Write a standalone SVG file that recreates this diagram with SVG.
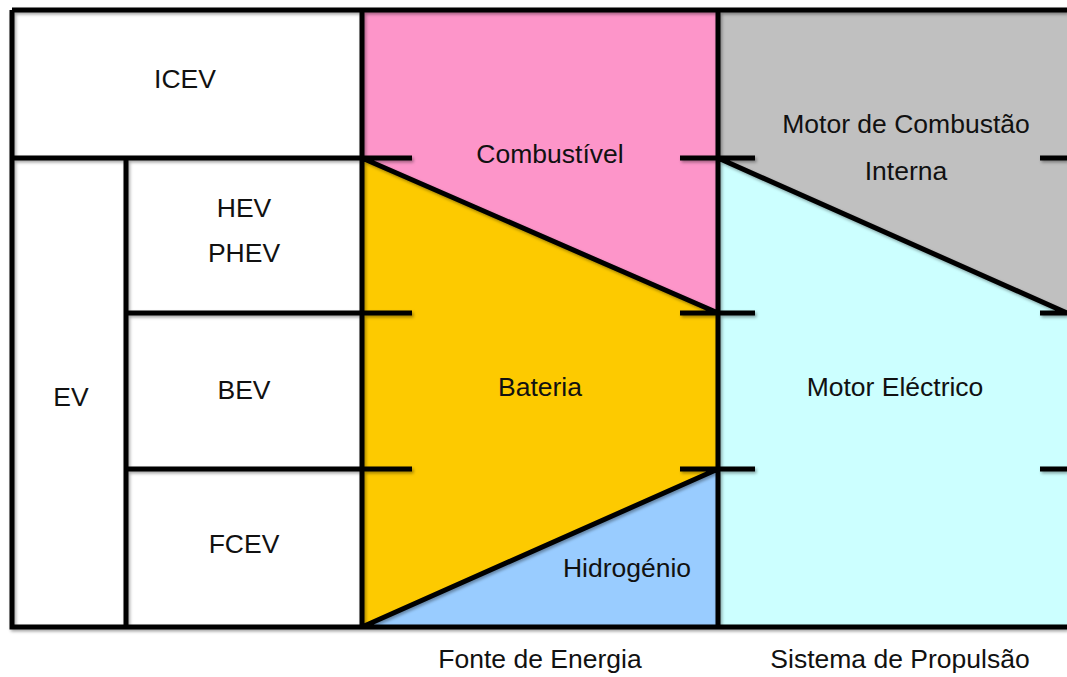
<svg xmlns="http://www.w3.org/2000/svg" width="1067" height="677" viewBox="0 0 1067 677">
<style>
text{font-family:"Liberation Sans",Arial,sans-serif;font-size:26.5px;fill:#111;text-anchor:middle}
.ln{stroke:#000;stroke-width:5;fill:none;stroke-linecap:butt}
</style>
<defs>
<filter id="sh" x="-5%" y="-5%" width="110%" height="110%">
<feDropShadow dx="1.5" dy="2" stdDeviation="1.5" flood-color="#000" flood-opacity="0.35"/>
</filter>
</defs>
<rect width="1067" height="677" fill="#fff"/>
<g id="regions">
<polygon id="combustivel-fill" points="362,10 718,10 718,313 362,158" fill="#FD95C9"/>
<polygon id="bateria-fill" points="362,158 718,313 718,469 362,627" fill="#FDCA00"/>
<polygon id="hidrogenio-fill" points="362,627 718,469 718,627" fill="#99CCFF"/>
<polygon id="mci-fill" points="718,10 1067,10 1067,313 718,158" fill="#C0C0C0"/>
<polygon id="me-fill" points="718,158 1067,313 1067,627 718,627" fill="#CCFFFF"/>
</g>
<g id="connectors" class="ln" filter="url(#sh)">
<path d="M12,10 H1067 M12,10 V627 H1067 M12,158 H412 M126,158 V627 M126,313 H412 M126,469 H412 M362,10 V627 M718,10 V627 M680,158 H755 M680,313 H755 M680,469 H755 M1040,158 H1067 M1040,313 H1067 M1040,469 H1067 M362,158 L718,313 M718,158 L1067,313 M362,627 L718,469"/>
</g>
<g id="icev"><text x="185" y="88">ICEV</text></g>
<g id="ev"><text x="71" y="406">EV</text></g>
<g id="hev"><text x="244" y="217">HEV</text><text x="244" y="262">PHEV</text></g>
<g id="bev"><text x="244" y="399">BEV</text></g>
<g id="fcev"><text x="244" y="553">FCEV</text></g>
<g id="combustivel"><text x="550" y="163">Combustível</text></g>
<g id="bateria"><text x="540" y="396">Bateria</text></g>
<g id="hidrogenio"><text x="627" y="577">Hidrogénio</text></g>
<g id="motor-combustao"><text x="906" y="133">Motor de Combustão</text><text x="906" y="180">Interna</text></g>
<g id="motor-electrico"><text x="895" y="396">Motor Eléctrico</text></g>
<g id="fonte"><text x="540" y="668">Fonte de Energia</text></g>
<g id="sistema"><text x="900" y="668">Sistema de Propulsão</text></g>
</svg>
